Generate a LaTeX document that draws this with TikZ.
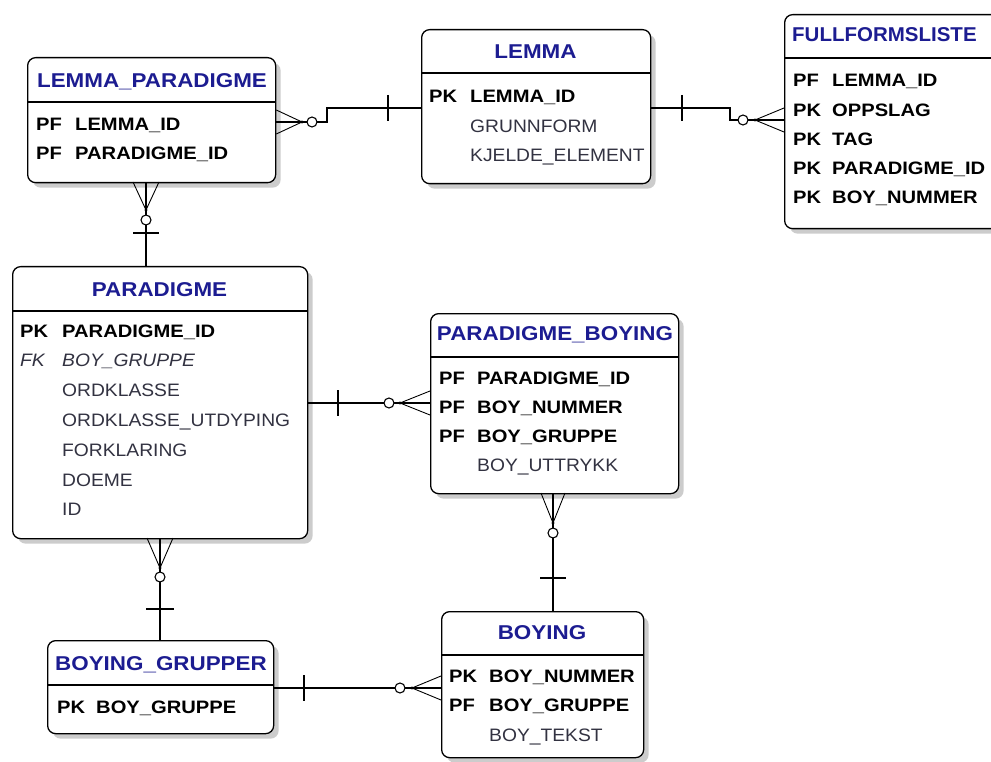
\documentclass[tikz,border=0pt]{standalone}
\usepackage{fontspec}
\setmainfont{Liberation Sans}[FakeStretch=1.12]
\newfontfamily\regfont{Liberation Sans}[FakeStretch=1.07]
\usetikzlibrary{shadows}
\definecolor{ttlc}{RGB}{28,28,145}
\definecolor{fldc}{RGB}{50,50,65}
\tikzset{
  ent/.style={draw, line width=1.3pt, rounded corners=8pt, fill=white, anchor=north west, inner sep=0pt,
    drop shadow={shadow xshift=5pt, shadow yshift=-5pt, fill=black!20, opacity=1}},
  ttl/.style={anchor=base, font=\fontsize{20}{22}\selectfont\bfseries, text=ttlc, inner sep=0pt},
  ttlw/.style={ttl, anchor=base west},
  keyl/.style={anchor=base west, font=\fontsize{18}{20}\selectfont\bfseries, inner sep=0pt},
  fb/.style={anchor=base west, font=\fontsize{18}{20}\selectfont\bfseries, inner sep=0pt},
  fn/.style={anchor=base west, font=\fontsize{18}{20}\selectfont\regfont, text=fldc, inner sep=0pt},
  fit/.style={anchor=base west, font=\fontsize{18}{20}\selectfont\regfont\itshape, text=fldc, inner sep=0pt},
  sep/.style={line width=1.3pt},
  conn/.style={line width=1.2pt},
  crow/.style={line width=0.9pt},
  ring/.style={draw, circle, minimum size=10pt, inner sep=0pt, fill=white, line width=1.1pt},
}
\begin{document}
\begin{tikzpicture}[x=1pt,y=-1pt]
\useasboundingbox (0,0) rectangle (991,762);
\clip (0,0) rectangle (991,762);

% ---------- entities ----------
\node[ent, minimum width=248pt, minimum height=125pt] (lp) at (27,57) {};
\draw[sep] (lp.west |- 0,102) -- (lp.east |- 0,102);
\node[ttl] (lpt) at (152,88) {LEMMA\_PARADIGME};
\node[keyl] (lpk1) at (36,130.5) {PF};
\node[fb] (lpf1) at (75,130.5) {LEMMA\_ID};
\node[keyl] (lpk2) at (36,159.5) {PF};
\node[fb] (lpf2) at (75,159.5) {PARADIGME\_ID};

\node[ent, minimum width=229pt, minimum height=154pt] (lemma) at (421,29) {};
\draw[sep] (lemma.west |- 0,73) -- (lemma.east |- 0,73);
\node[ttl] (lemt) at (535.5,59) {LEMMA};
\node[keyl] (lemk1) at (429,102.5) {PK};
\node[fb] (lemf1) at (470,102.5) {LEMMA\_ID};
\node[fn] (lemf2) at (470,132.5) {GRUNNFORM};
\node[fn] (lemf3) at (470,161.5) {KJELDE\_ELEMENT};

\node[ent, minimum width=240pt, minimum height=214pt] (ff) at (784,14) {};
\draw[sep] (ff.west |- 0,58) -- (ff.east |- 0,58);
\node[ttlw] (fft) at (792,42) {\scalebox{0.915}[1]{FULLFORMSLISTE}};
\node[keyl] (ffk1) at (793,86.5) {PF};
\node[fb] (fff1) at (832,86.5) {LEMMA\_ID};
\node[keyl] (ffk2) at (793,116.5) {PK};
\node[fb] (fff2) at (832,116.5) {OPPSLAG};
\node[keyl] (ffk3) at (793,145.5) {PK};
\node[fb] (fff3) at (832,145.5) {TAG};
\node[keyl] (ffk4) at (793,174.5) {PK};
\node[fb] (fff4) at (832,174.5) {PARADIGME\_ID};
\node[keyl] (ffk5) at (793,203.5) {PK};
\node[fb] (fff5) at (832,203.5) {BOY\_NUMMER};

\node[ent, minimum width=295pt, minimum height=272pt] (par) at (12,266) {};
\draw[sep] (par.west |- 0,311) -- (par.east |- 0,311);
\node[ttl] (part) at (159.5,296) {PARADIGME};
\node[keyl] (park1) at (20,337.5) {PK};
\node[fb] (parf1) at (62,337.5) {PARADIGME\_ID};
\node[fit] (park2) at (20,366.5) {FK};
\node[fit] (parf2) at (62,366.5) {BOY\_GRUPPE};
\node[fn] (parf3) at (62,396.5) {ORDKLASSE};
\node[fn] (parf4) at (62,426.5) {ORDKLASSE\_UTDYPING};
\node[fn] (parf5) at (62,456.5) {FORKLARING};
\node[fn] (parf6) at (62,486.5) {DOEME};
\node[fn] (parf7) at (62,515.5) {ID};

\node[ent, minimum width=248pt, minimum height=180pt] (pb) at (430,313) {};
\draw[sep] (pb.west |- 0,357) -- (pb.east |- 0,357);
\node[ttl] (pbt) at (555,340) {PARADIGME\_BOYING};
\node[keyl] (pbk1) at (439,384.5) {PF};
\node[fb] (pbf1) at (477,384.5) {PARADIGME\_ID};
\node[keyl] (pbk2) at (439,413.5) {PF};
\node[fb] (pbf2) at (477,413.5) {BOY\_NUMMER};
\node[keyl] (pbk3) at (439,442.5) {PF};
\node[fb] (pbf3) at (477,442.5) {BOY\_GRUPPE};
\node[fn] (pbf4) at (477,471.5) {BOY\_UTTRYKK};

\node[ent, minimum width=226pt, minimum height=93pt] (bg) at (47,640) {};
\draw[sep] (bg.west |- 0,685) -- (bg.east |- 0,685);
\node[ttl] (bgt) at (161,670) {BOYING\_GRUPPER};
\node[keyl] (bgk1) at (57,713.5) {PK};
\node[fb] (bgf1) at (96,713.5) {BOY\_GRUPPE};

\node[ent, minimum width=202pt, minimum height=146pt] (boy) at (441,611) {};
\draw[sep] (boy.west |- 0,655) -- (boy.east |- 0,655);
\node[ttl] (boyt) at (542,639) {BOYING};
\node[keyl] (boyk1) at (449,682.5) {PK};
\node[fb] (boyf1) at (489,682.5) {BOY\_NUMMER};
\node[keyl] (boyk2) at (449,711.5) {PF};
\node[fb] (boyf2) at (489,711.5) {BOY\_GRUPPE};
\node[fn] (boyf3) at (489,741.5) {BOY\_TEKST};

% ---------- connectors ----------
% LEMMA_PARADIGME >o---|- LEMMA
\draw[conn] (lp.east |- 0,122) -- (327,122) |- (lemma.west |- 0,108);
\draw[conn] (388,95) -- (388,121);
\draw[crow] (302,122) -- (lp.east |- 0,110) (302,122) -- (lp.east |- 0,134);
\fill (302,122) circle (1.6);
\node[ring] (r1) at (312,122) {};

% LEMMA -|---o< FULLFORMSLISTE
\draw[conn] (lemma.east |- 0,108) -- (730,108) |- (ff.west |- 0,120);
\draw[conn] (682,95) -- (682,121);
\draw[crow] (755,120) -- (ff.west |- 0,108) (755,120) -- (ff.west |- 0,132);
\fill (755,120) circle (1.6);
\node[ring] (r2) at (743,120) {};

% LEMMA_PARADIGME -- PARADIGME
\draw[conn] (lp.south -| 146,0) -- (par.north -| 146,0);
\draw[crow] (146,210) -- (133,182) (146,210) -- (159,182);
\fill (146,210) circle (1.6);
\node[ring] (r3) at (146,220) {};
\draw[conn] (133,233) -- (159,233);

% PARADIGME -- PARADIGME_BOYING
\draw[conn] (par.east |- 0,403) -- (pb.west |- 0,403);
\draw[conn] (338,390) -- (338,416);
\draw[crow] (400,403) -- (pb.west |- 0,391) (400,403) -- (pb.west |- 0,415);
\fill (400,403) circle (1.6);
\node[ring] (r4) at (389,403) {};

% PARADIGME_BOYING -- BOYING
\draw[conn] (pb.south -| 553,0) -- (boy.north -| 553,0);
\draw[crow] (553,523) -- (541,493) (553,523) -- (565,493);
\fill (553,523) circle (1.6);
\node[ring] (r5) at (553,533) {};
\draw[conn] (540,578) -- (566,578);

% PARADIGME -- BOYING_GRUPPER
\draw[conn] (par.south -| 160,0) -- (bg.north -| 160,0);
\draw[crow] (160,568) -- (147,538) (160,568) -- (173,538);
\fill (160,568) circle (1.6);
\node[ring] (r6) at (160,577) {};
\draw[conn] (146,609) -- (174,609);

% BOYING_GRUPPER -- BOYING
\draw[conn] (bg.east |- 0,688) -- (boy.west |- 0,688);
\draw[conn] (304,675) -- (304,701);
\draw[crow] (412,688) -- (boy.west |- 0,676) (412,688) -- (boy.west |- 0,700);
\fill (412,688) circle (1.6);
\node[ring] (r7) at (400,688) {};
\end{tikzpicture}
\end{document}
